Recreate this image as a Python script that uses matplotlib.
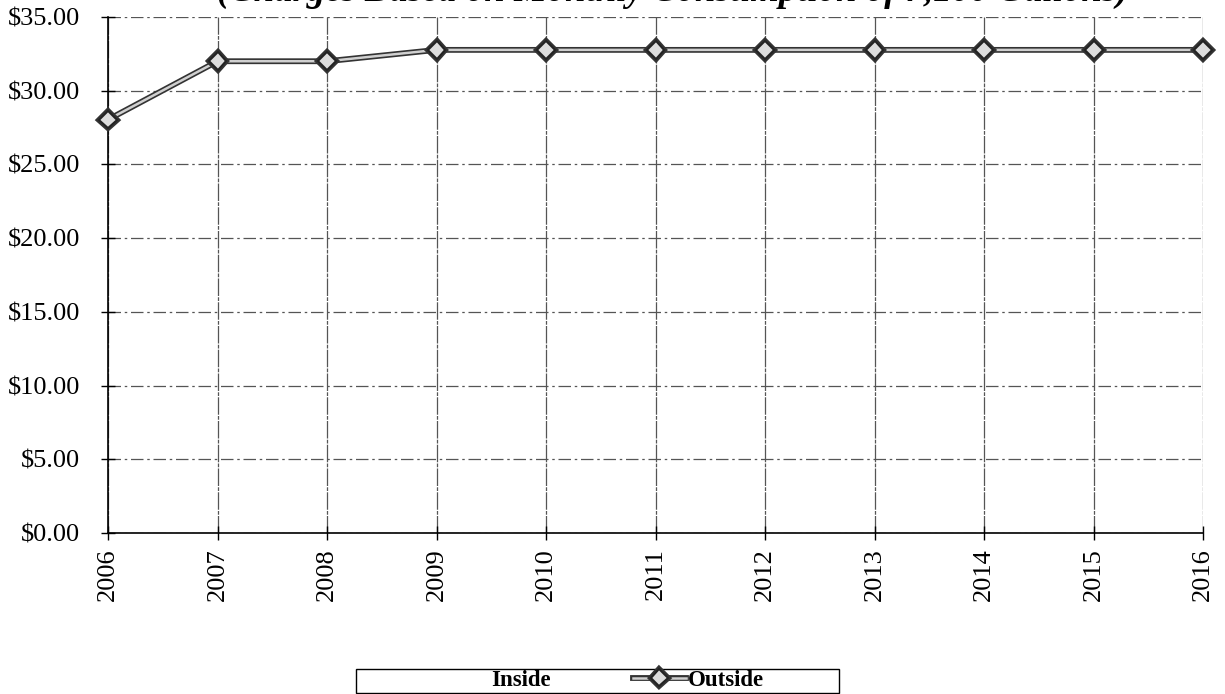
import matplotlib.pyplot as plt
import matplotlib.patheffects as pe
from matplotlib.lines import Line2D
from matplotlib.patches import Rectangle

years = [2006, 2007, 2008, 2009, 2010, 2011, 2012, 2013, 2014, 2015, 2016]
outside = [28.04, 32.00, 32.00, 32.77, 32.77, 32.77, 32.77, 32.77, 32.77, 32.77, 32.77]
yticks = [0, 5, 10, 15, 20, 25, 30, 35]
title = "(Charges Based on Monthly Consumption of 7,100 Gallons)"

plt.rcParams['font.family'] = ['Liberation Serif', 'DejaVu Serif']

W, H = 1225, 694
fig = plt.figure(figsize=(W / 100, H / 100), dpi=100)
ax = fig.add_axes([0.0882, 0.232, 0.894, 0.7435])

line_style = dict(color='#d0d0d0', lw=1.8, marker='D', markersize=9,
                  markerfacecolor='#dcdcdc', markeredgecolor='#222222',
                  markeredgewidth=1.4,
                  path_effects=[pe.Stroke(linewidth=4.2, foreground='#333333'), pe.Normal()])

ax.plot(years, outside, zorder=5, clip_on=False, **line_style)

ax.set_xlim(2006, 2016)
ax.set_ylim(0, 35)
ax.set_xticks(years)
ax.set_xticklabels([str(y) for y in years], rotation=90, fontsize=19)
ax.set_yticks(yticks)
ax.set_yticklabels([f"${v:.2f}" for v in yticks], fontsize=19)
ax.tick_params(axis='both', direction='inout', length=10, width=1, color='black')
ax.tick_params(axis='y', pad=15)
ax.tick_params(axis='x', pad=6)

ax.grid(axis='x', color='#555555', lw=0.9, linestyle=(0, (14, 1, 3, 1)))
ax.grid(axis='y', color='#555555', lw=0.9, linestyle=(0, (10, 3, 2, 3)))
ax.set_axisbelow(True)
for s in ['top', 'right']:
    ax.spines[s].set_visible(False)
ax.spines['left'].set_linewidth(1.2)
ax.spines['bottom'].set_linewidth(1.2)

fig.text(0.549, 0.987, title, ha='center', va='bottom', fontsize=26.5,
         fontweight='bold', fontstyle='italic')

# legend entries without frame, box drawn separately
inside_handle = Line2D([], [], linestyle='None', marker=None)
outside_handle = Line2D([], [], **line_style)
leg = fig.legend([inside_handle, outside_handle], ['Inside', 'Outside'],
                 loc='center', bbox_to_anchor=(600 / W, 1 - 680 / H), ncol=2,
                 prop={'weight': 'bold', 'size': 16.5}, frameon=False,
                 handlelength=2.3, handletextpad=0.1, columnspacing=3.6,
                 borderpad=0, borderaxespad=0)
fig.patches.append(Rectangle((356 / W, 1 - 693 / H), 483 / W, 24 / H,
                             transform=fig.transFigure, fill=False,
                             edgecolor='black', lw=1.0))

fig.savefig('out.png', dpi=100)
